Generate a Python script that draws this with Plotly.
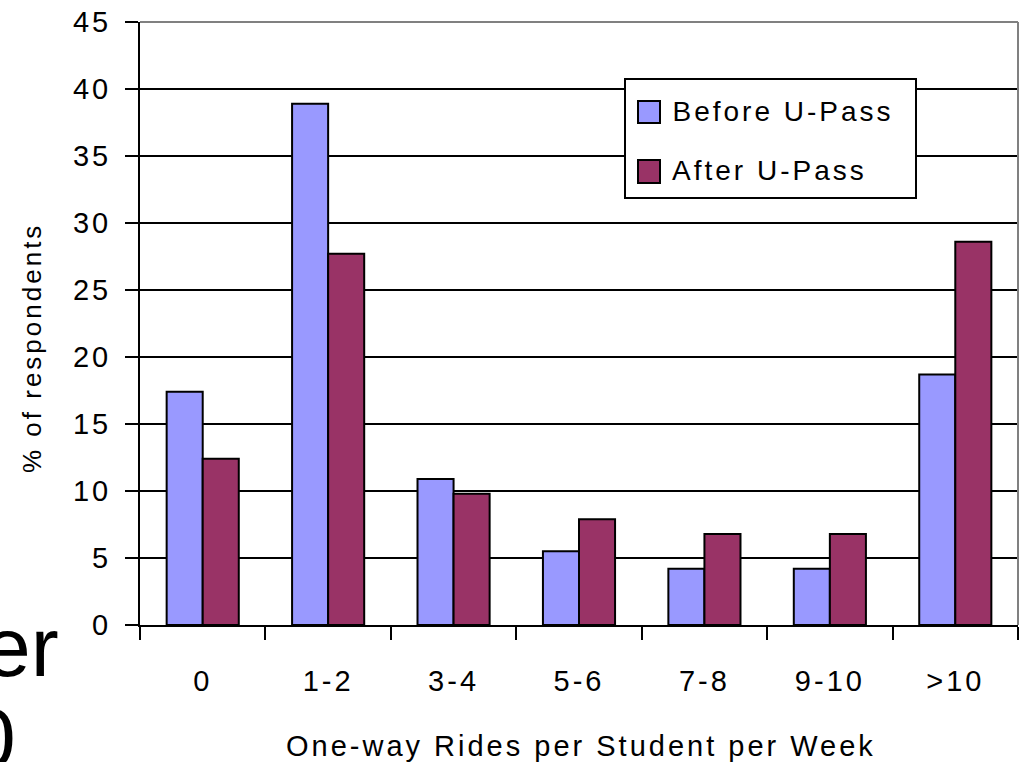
import plotly.graph_objects as go

# Share of respondents by weekly one-way transit rides, before/after the U-Pass
categories = ["0", "1-2", "3-4", "5-6", "7-8", "9-10", ">10"]
before_upass = [17.4, 38.9, 10.9, 5.5, 4.2, 4.2, 18.7]
after_upass = [12.4, 27.7, 9.8, 7.9, 6.8, 6.8, 28.6]
series_names = ["Before U-Pass", "After U-Pass"]
series_colors = ["#9999FF", "#993366"]
y_ticks = [0, 5, 10, 15, 20, 25, 30, 35, 40, 45]

x_title = "One-way Rides per Student per Week"
y_title = "% of respondents"

W, H = 1020, 762
L, R, T, B = 140, 2, 22, 137
PW, PH = W - L - R, H - T - B
FONT = "Liberation Sans, Arial, sans-serif"
LETTER_SPACING = 3  # px added after every character of the chart texts


def px(x):
    """pixel x -> paper x"""
    return (x - L) / PW


def py(y):
    """pixel y -> paper y"""
    return (H - B - y) / PH


fig = go.Figure()
for name, vals, col in zip(series_names, [before_upass, after_upass], series_colors):
    fig.add_trace(go.Bar(
        x=categories, y=vals, name=name, showlegend=False,
        marker=dict(color=col, line=dict(color="black", width=2)),
    ))

shapes = [
    # light grey frame on top and right of the plot area
    dict(type="line", xref="paper", yref="paper", x0=0, x1=1, y0=1, y1=1,
         line=dict(color="#808080", width=2), layer="above"),
    dict(type="line", xref="paper", yref="paper", x0=1, x1=1, y0=0, y1=1,
         line=dict(color="#808080", width=2), layer="above"),
    # legend box
    dict(type="rect", xref="paper", yref="paper",
         x0=px(625), x1=px(916), y0=py(198), y1=py(79),
         fillcolor="white", line=dict(color="black", width=2), layer="above"),
]
annotations = []
legend_rows = [(101, 123, 111), (160, 183, 170)]
for (top, bot, mid), name, col in zip(legend_rows, series_names, series_colors):
    shapes.append(dict(type="rect", xref="paper", yref="paper",
                       x0=px(638), x1=px(660), y0=py(bot), y1=py(top),
                       fillcolor=col, line=dict(color="black", width=2), layer="above"))
    # annotation text is centred in its box, so the extra spacing spreads to both sides
    shift = len(name) * LETTER_SPACING / 2
    annotations.append(dict(text=name, xref="paper", yref="paper",
                            x=px(670 + shift), y=py(mid), xanchor="left", yanchor="middle",
                            showarrow=False, font=dict(family=FONT, size=28, color="black")))

annotations += [
    dict(text=y_title, xref="paper", yref="paper", x=px(32), y=py(348),
         xanchor="center", yanchor="middle", textangle=-90, showarrow=False,
         font=dict(family=FONT, size=26, color="black")),
    dict(text=x_title, xref="paper", yref="paper", x=px(581), y=py(746),
         xanchor="center", yanchor="middle", showarrow=False,
         font=dict(family=FONT, size=29, color="black")),
    # slide text partly hidden behind the chart
    dict(text="er", xref="paper", yref="paper", x=px(61), y=py(647),
         xanchor="right", yanchor="middle", showarrow=False,
         font=dict(family=FONT, size=84, color="black")),
    dict(text="0", xref="paper", yref="paper", x=px(18), y=py(738),
         xanchor="right", yanchor="middle", showarrow=False,
         font=dict(family=FONT, size=84, color="black")),
]

fig.update_layout(
    width=W, height=H, autosize=False,
    margin=dict(l=L, r=R, t=T, b=B, pad=0),
    paper_bgcolor="white", plot_bgcolor="white",
    barmode="group", bargap=0.425, bargroupgap=0,
    font=dict(family=FONT, color="black"),
    shapes=shapes, annotations=annotations,
    xaxis=dict(
        type="category", showline=True, linecolor="black", linewidth=2,
        ticks="outside", tickson="boundaries", ticklen=13, tickwidth=2,
        tickcolor="black", tickfont=dict(size=29), ticklabelstandoff=29,
        showgrid=False, fixedrange=True,
    ),
    yaxis=dict(
        range=[0, 45], tickmode="array", tickvals=y_ticks,
        showgrid=True, gridcolor="black", gridwidth=2,
        showline=True, linecolor="black", linewidth=2,
        ticks="outside", ticklen=13, tickwidth=2, tickcolor="black",
        tickfont=dict(size=29), ticklabelstandoff=8, zeroline=False,
        fixedrange=True,
    ),
)

# widen character spacing of the chart texts (the large slide fragments are left alone)
spacing_js = """
var gd = document.getElementById('{plot_id}');
function spaceText() {
  gd.querySelectorAll('text').forEach(function (t) {
    var fs = parseFloat(t.style.fontSize || '0');
    if (fs > 0 && fs < 40) { t.style.letterSpacing = '%dpx'; }
  });
}
spaceText();
if (gd && gd.on) { gd.on('plotly_afterplot', spaceText); }
""" % LETTER_SPACING

fig.write_html("out.html", post_script=spacing_js, config={"displayModeBar": False})
